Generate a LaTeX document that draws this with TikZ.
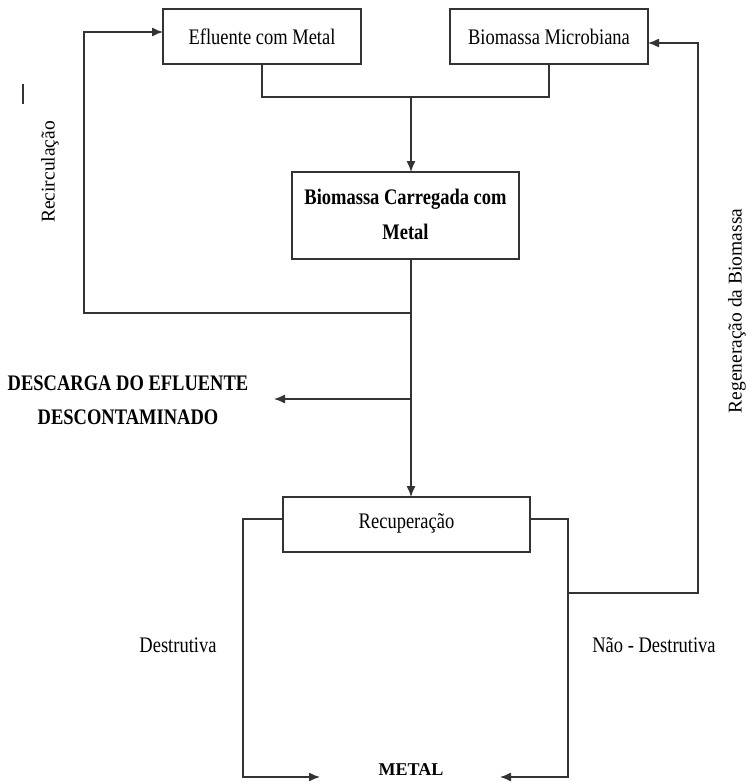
\documentclass[tikz,border=0pt]{standalone}
\usepackage{fontspec}
\setmainfont{Liberation Serif}
\usetikzlibrary{arrows.meta}
\definecolor{linegray}{rgb}{0.2, 0.2, 0.2}
\newcommand{\tall}[1]{\scalebox{1}[1.2]{#1}}

\begin{document}
\begin{tikzpicture}[x=1pt,y=-1pt]
							\tikzstyle{box} = [rectangle,draw=linegray,line width=1.8pt,fill=white,inner sep=0pt,font=\fontsize{18.5}{22}\selectfont]
							\tikzstyle{lbl} = [inner sep=0pt,font=\fontsize{18.5}{22}\selectfont]
							\tikzstyle{edge} = [-,draw=linegray,line width=1.3pt]
							\tikzstyle{edge2} = [-{Latex[length=11pt,width=9pt]},draw=linegray,line width=1.3pt]
							\useasboundingbox (0,0) rectangle (747,784);
							\node[box,minimum width=198pt,minimum height=55pt] (efl) at (262,36.5) {\tall{Efluente com Metal}};
							\node[box,minimum width=198pt,minimum height=55pt] (bmic) at (549,36.5) {\tall{Biomassa Microbiana}};
							\node[box,minimum width=227pt,minimum height=87pt,font=\fontsize{18.5}{22}\selectfont\bfseries] (bcar) at (405.5,215.5) {};
							\node[box,minimum width=247pt,minimum height=55pt] (rec) at (406.5,524.5) {};
							\node[lbl,font=\fontsize{18.5}{22}\selectfont\bfseries] (bcar1) at (405.5,199) {\tall{Biomassa Carregada com}};
							\node[lbl,font=\fontsize{18.5}{22}\selectfont\bfseries] (bcar2) at (405.5,232) {\tall{Metal}};
							\node[lbl] (rectxt) at (406.5,523) {\tall{Recuperação}};
							
							\coordinate (j1) at (411,97);
							\coordinate (ctop) at (411,172);
							\coordinate (cbot) at (411,259);
							\coordinate (rtop) at (411,497);
							\coordinate (j2) at (411,313);
							\coordinate (j3) at (411,399);
							\coordinate (j4) at (568,593);
							\coordinate (ein) at (163,32);
							\coordinate (bin) at (648,43);
							\coordinate (rl) at (283,519);
							\coordinate (rr) at (530,519);
							\coordinate (desc) at (274,399);
							\coordinate (ml) at (320,777);
							\coordinate (mr) at (500,777);
							
							\draw[edge] (efl.south) -- (262,97) -| (bmic.south);
							\draw[edge2] (j1) -- (ctop);
							\draw[edge2] (cbot) -- (rtop);
							\draw[edge2] (j2) -| (84,32) -- (ein);
							\draw[edge2] (j3) -- (desc);
							\draw[edge2] (rl) -| (243,777) -- (ml);
							\draw[edge2] (rr) -| (568,777) -- (mr);
							\draw[edge2] (j4) -| (698,43) -- (bin);
							\draw[draw=linegray,line width=1.8pt] (23,84) -- (23,104);
							
							\node[lbl,rotate=90,font=\fontsize{19.5}{22}\selectfont] (recirc) at (50,172) {Recirculação};
							\node[lbl,rotate=90,font=\fontsize{19.5}{22}\selectfont] (regen) at (737,311) {Regeneração da Biomassa};
							\node[lbl,font=\fontsize{18.5}{22}\selectfont\bfseries] (desc1) at (128,383) {\tall{DESCARGA DO EFLUENTE}};
							\node[lbl,font=\fontsize{18.5}{22}\selectfont\bfseries] (desc2) at (128,417) {\tall{DESCONTAMINADO}};
							\node[lbl] (destr) at (178,645) {\tall{Destrutiva}};
							\node[lbl] (ndestr) at (654,645) {\tall{Não - Destrutiva}};
							\node[lbl,font=\fontsize{18}{22}\selectfont\bfseries] (metal) at (411,770) {METAL};
\end{tikzpicture}
\end{document}
